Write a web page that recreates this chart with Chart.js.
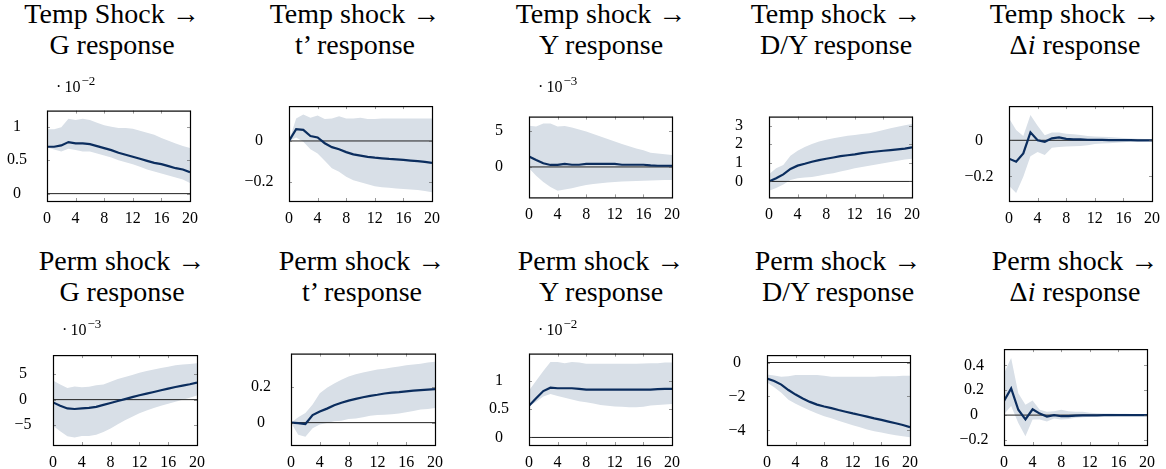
<!DOCTYPE html>
<html><head><meta charset="utf-8">
<script src="https://cdn.jsdelivr.net/npm/chart.js@4/dist/chart.umd.min.js"></script>
<style>
html,body{margin:0;padding:0;background:#fff;width:1166px;height:469px;overflow:hidden;position:relative;}
canvas{position:absolute;}
.title{position:absolute;width:320px;font-family:'Liberation Serif','Times New Roman',serif;font-size:28px;line-height:31px;text-align:center;white-space:nowrap;color:#000;}
.expo{position:absolute;font-family:'Liberation Serif','Times New Roman',serif;font-size:16px;line-height:18px;color:#000;white-space:nowrap;}
.expo sup{font-size:13px;position:relative;top:-1px;margin-left:1px;}
</style></head>
<body>
<script>
// ---------------- DATA ----------------
const horizons = [0,1,2,3,4,5,6,7,8,9,10,11,12,13,14,15,16,17,18,19,20];
const xTicks = [0,4,8,12,16,20];

// Temp shock -> G response (x 10^-2)
const tempG_irf = [0.70,0.70,0.72,0.77,0.75,0.75,0.74,0.71,0.68,0.65,0.61,0.58,0.55,0.52,0.49,0.46,0.44,0.41,0.38,0.36,0.32];
const tempG_hi  = [0.96,0.96,0.99,1.12,1.10,1.12,1.10,1.06,1.02,1.00,0.98,0.98,0.97,0.94,0.91,0.88,0.83,0.79,0.75,0.71,0.68];
const tempG_lo  = [0.69,0.66,0.63,0.67,0.65,0.63,0.63,0.60,0.57,0.54,0.50,0.47,0.44,0.40,0.36,0.33,0.30,0.27,0.24,0.21,0.16];
const tempG_yTicks = [0,0.5,1];

// Temp shock -> t' response
const tempT_irf = [0,0.057,0.054,0.024,0.017,-0.011,-0.030,-0.040,-0.054,-0.065,-0.071,-0.077,-0.081,-0.084,-0.087,-0.089,-0.092,-0.095,-0.098,-0.101,-0.106];
const tempT_hi  = [0,0.109,0.128,0.113,0.123,0.106,0.109,0.120,0.109,0.109,0.112,0.106,0.106,0.109,0.109,0.109,0.109,0.109,0.109,0.109,0.109];
const tempT_lo  = [0,0.017,-0.004,-0.040,-0.061,-0.096,-0.132,-0.149,-0.174,-0.190,-0.200,-0.210,-0.220,-0.224,-0.227,-0.230,-0.233,-0.235,-0.238,-0.243,-0.248];
const tempT_yTicks = [-0.2,0];

// Temp shock -> Y response (x 10^-3)
const tempY_irf = [1.47,0.98,0.52,0.28,0.28,0.42,0.31,0.31,0.42,0.42,0.42,0.42,0.42,0.31,0.31,0.31,0.31,0.21,0.17,0.17,0.17];
const tempY_hi  = [5.77,5.66,6.08,6.08,5.66,5.73,5.52,5.24,4.97,4.62,4.27,3.92,3.57,3.22,2.90,2.59,2.34,1.99,1.89,1.78,1.68];
const tempY_lo  = [-0.17,-1.22,-2.10,-2.80,-3.32,-3.15,-2.97,-2.73,-2.52,-2.38,-2.27,-2.17,-2.10,-2.03,-2.00,-1.96,-1.92,-1.89,-1.85,-1.82,-1.82];
const tempY_yTicks = [0,5];

// Temp shock -> D/Y response
const tempDY_irf = [0,0.17,0.38,0.67,0.85,0.95,1.06,1.15,1.22,1.29,1.36,1.41,1.46,1.52,1.57,1.61,1.65,1.69,1.73,1.77,1.83];
const tempDY_hi  = [0.38,0.71,0.89,1.38,1.65,1.85,2.01,2.15,2.25,2.32,2.39,2.46,2.50,2.55,2.60,2.68,2.77,2.86,2.95,3.02,3.09];
const tempDY_lo  = [-0.50,-0.36,-0.16,0.08,0.17,0.21,0.24,0.31,0.38,0.44,0.54,0.62,0.71,0.78,0.85,0.91,0.98,1.05,1.11,1.18,1.22];
const tempDY_yTicks = [0,1,2,3];

// Temp shock -> Delta i response
const tempDi_irf = [-0.102,-0.119,-0.073,0.044,0,-0.008,0.011,0.016,0.008,0.005,0.005,0.003,0.002,0.002,0.001,0.001,0.001,0.001,0,0,0];
const tempDi_hi  = [0.122,0.057,0.024,0.141,0.081,0.028,0.044,0.044,0.037,0.033,0.029,0.024,0.021,0.020,0.018,0.015,0.013,0.010,0.008,0.007,0.005];
const tempDi_lo  = [-0.252,-0.293,-0.203,-0.089,-0.065,-0.081,-0.041,-0.037,-0.034,-0.033,-0.031,-0.028,-0.021,-0.018,-0.016,-0.013,-0.011,-0.008,-0.007,-0.005,-0.003];
const tempDi_yTicks = [-0.2,0];

// Perm shock -> G response (x 10^-3)
const permG_irf = [-0.54,-1.19,-1.73,-1.84,-1.73,-1.62,-1.41,-1.03,-0.65,-0.27,0.11,0.49,0.86,1.19,1.51,1.84,2.16,2.49,2.76,3.03,3.35];
const permG_hi  = [3.78,2.97,2.27,2.59,2.43,2.54,2.81,2.97,3.51,4.05,4.43,4.86,5.30,5.62,5.95,6.22,6.49,6.76,6.92,7.03,7.14];
const permG_lo  = [-5.14,-6.22,-7.19,-7.46,-7.14,-7.14,-6.92,-6.38,-5.68,-4.86,-4.05,-3.35,-2.70,-2.16,-1.62,-1.19,-0.81,-0.43,0,0.38,0.81];
const permG_yTicks = [-5,0,5];

// Perm shock -> t' response
const permT_irf = [0,-0.003,-0.008,0.043,0.063,0.079,0.098,0.112,0.124,0.134,0.143,0.151,0.157,0.164,0.169,0.172,0.176,0.180,0.183,0.186,0.189];
const permT_hi  = [0,0.031,0.055,0.102,0.165,0.197,0.220,0.241,0.260,0.272,0.283,0.291,0.299,0.304,0.310,0.317,0.323,0.328,0.332,0.339,0.343];
const permT_lo  = [0,-0.068,-0.079,-0.031,-0.011,-0.002,0.008,0.011,0.020,0.024,0.031,0.039,0.043,0.044,0.047,0.052,0.058,0.066,0.074,0.077,0.082];
const permT_yTicks = [0,0.2];

// Perm shock -> Y response (x 10^-2)
const permY_irf = [0.557,0.690,0.818,0.877,0.867,0.867,0.867,0.857,0.842,0.842,0.842,0.842,0.842,0.842,0.842,0.842,0.842,0.842,0.852,0.857,0.857];
const permY_hi  = [0.828,1.00,1.17,1.33,1.33,1.31,1.33,1.32,1.30,1.30,1.30,1.30,1.30,1.30,1.30,1.30,1.305,1.31,1.31,1.32,1.32];
const permY_lo  = [0.542,0.630,0.720,0.768,0.729,0.700,0.670,0.640,0.620,0.600,0.570,0.557,0.547,0.542,0.532,0.532,0.542,0.562,0.571,0.581,0.591];
const permY_yTicks = [0,0.5,1];

// Perm shock -> D/Y response
const permDY_irf = [-0.94,-1.09,-1.30,-1.62,-1.89,-2.12,-2.32,-2.48,-2.59,-2.69,-2.80,-2.90,-3.00,-3.09,-3.19,-3.29,-3.38,-3.48,-3.58,-3.68,-3.81];
const permDY_hi  = [-0.70,-0.76,-0.84,-0.81,-0.73,-0.73,-0.73,-0.73,-0.78,-0.84,-0.84,-0.84,-0.84,-0.84,-0.84,-0.84,-0.81,-0.81,-0.81,-0.78,-0.78];
const permDY_lo  = [-1.18,-1.46,-1.78,-2.19,-2.43,-2.64,-2.83,-3.00,-3.16,-3.29,-3.43,-3.56,-3.69,-3.81,-3.94,-4.05,-4.13,-4.21,-4.29,-4.34,-4.40];
const permDY_yTicks = [-4,-2,0];

// Perm shock -> Delta i response
const permDi_irf = [0.113,0.215,0.043,-0.035,0.047,0.012,-0.012,0,-0.009,-0.009,-0.005,-0.002,-0.002,-0.002,-0.001,-0.001,-0.001,0,0,0,0];
const permDi_hi  = [0.338,0.461,0.177,0.083,0.118,0.043,0.026,0.031,0.043,0.031,0.026,0.026,0.019,0.014,0.012,0.012,0.011,0.010,0.009,0.008,0.007];
const permDi_lo  = [0.007,0.073,-0.064,-0.170,-0.035,-0.035,-0.052,-0.028,-0.035,-0.031,-0.021,-0.017,-0.014,-0.012,-0.010,-0.009,-0.008,-0.007,-0.006,-0.005,-0.005];
const permDi_yTicks = [-0.2,0,0.2,0.4];

// ---------------- LAYOUT ----------------
const panels = [
  {irf:tempG_irf, hi:tempG_hi, lo:tempG_lo, yt:tempG_yTicks, min:-0.11, max:1.24, L:47, T:93, W:145, H:108, title:['Temp Shock &rarr;','G response'], tc:112, expo:'&middot;&thinsp;10<sup>&minus;2</sup>'},
  {irf:tempT_irf, hi:tempT_hi, lo:tempT_lo, yt:tempT_yTicks, min:-0.291, max:0.169, L:289, T:93, W:145, H:108, title:['Temp shock &rarr;','t&rsquo; response'], tc:355},
  {irf:tempY_irf, hi:tempY_hi, lo:tempY_lo, yt:tempY_yTicks, min:-4.27, max:7.06, L:529, T:93, W:145, H:108, title:['Temp shock &rarr;','Y response'], tc:601, expo:'&middot;&thinsp;10<sup>&minus;3</sup>'},
  {irf:tempDY_irf, hi:tempDY_hi, lo:tempDY_lo, yt:tempDY_yTicks, min:-0.86, max:3.49, L:769, T:93, W:145, H:108, title:['Temp shock &rarr;','D/Y response'], tc:836},
  {irf:tempDi_irf, hi:tempDi_hi, lo:tempDi_lo, yt:tempDi_yTicks, min:-0.337, max:0.19, L:1009, T:93, W:145, H:108, title:['Temp shock &rarr;','&Delta;<i>i</i> response'], tc:1075},
  {irf:permG_irf, hi:permG_hi, lo:permG_lo, yt:permG_yTicks, min:-8.92, max:8.76, L:53, T:336, W:146, H:109, title:['Perm shock &rarr;','G response'], tc:122, expo:'&middot;&thinsp;10<sup>&minus;3</sup>'},
  {irf:permT_irf, hi:permT_hi, lo:permT_lo, yt:permT_yTicks, min:-0.126, max:0.389, L:291, T:336, W:146, H:109, title:['Perm shock &rarr;','t&rsquo; response'], tc:362},
  {irf:permY_irf, hi:permY_hi, lo:permY_lo, yt:permY_yTicks, min:-0.133, max:1.478, L:529, T:336, W:145, H:109, title:['Perm shock &rarr;','Y response'], tc:601, expo:'&middot;&thinsp;10<sup>&minus;2</sup>'},
  {irf:permDY_irf, hi:permDY_hi, lo:permDY_lo, yt:permDY_yTicks, min:-4.86, max:0.437, L:767, T:336, W:145, H:109, title:['Perm shock &rarr;','D/Y response'], tc:838},
  {irf:permDi_irf, hi:permDi_hi, lo:permDi_lo, yt:permDi_yTicks, min:-0.241, max:0.532, L:1004, T:336, W:145, H:109, title:['Perm shock &rarr;','&Delta;<i>i</i> response'], tc:1075}
];

const FAMILY = "'Liberation Serif', 'Times New Roman', serif";
const FONT = {family:FAMILY, size:16};
const YAXW = 47, PADT = 12, PADR = 14, XAXH = 32;
const LINE_COLOR = '#0b2d5e', BAND_COLOR = 'rgb(216,223,231)';

const mctx = document.createElement('canvas').getContext('2d');
mctx.font = '16px ' + FAMILY;
function fmt(v){ const r = Math.round(v*1000)/1000; return (r<0?'\u2212':'') + String(Math.abs(r)); }

const boxPlugin = {
  id:'box',
  afterDatasetsDraw(chart){
    const {ctx, chartArea:a, scales} = chart;
    ctx.save();
    ctx.strokeStyle = '#555'; ctx.lineWidth = 0.6;
    ctx.beginPath();
    scales.x.ticks.forEach(t=>{ const px = Math.round(scales.x.getPixelForValue(t.value))+0.5;
      ctx.moveTo(px,a.bottom); ctx.lineTo(px,a.bottom-3); ctx.moveTo(px,a.top); ctx.lineTo(px,a.top+3); });
    scales.y.ticks.forEach(t=>{ const py = Math.round(scales.y.getPixelForValue(t.value))+0.5;
      ctx.moveTo(a.left,py); ctx.lineTo(a.left+3,py); ctx.moveTo(a.right,py); ctx.lineTo(a.right-3,py); });
    ctx.stroke();
    ctx.strokeStyle = '#000'; ctx.lineWidth = 1.2;
    ctx.strokeRect(a.left+0.5, a.top+0.5, a.right-a.left, a.bottom-a.top);
    ctx.restore();
  }
};

panels.forEach((p,i)=>{
  const cv = document.createElement('canvas');
  const cw = p.W + YAXW + PADR, ch = p.H + PADT + XAXH;
  cv.width = cw; cv.height = ch;
  cv.style.left = (p.L - YAXW) + 'px'; cv.style.top = (p.T - PADT) + 'px';
  cv.style.width = cw+'px'; cv.style.height = ch+'px';
  document.body.appendChild(cv);

  const widest = Math.max(...p.yt.map(v=>mctx.measureText(fmt(v)).width));
  const ypad = Math.max(0, 30 - widest/2);
  const pts = arr => horizons.map((h,k)=>({x:h, y:arr[k]}));

  new Chart(cv.getContext('2d'), {
    type:'line',
    data:{ datasets:[
      {data:pts(p.irf), borderColor:LINE_COLOR, borderWidth:2.2, pointRadius:0, tension:0, fill:false},
      {data:[{x:0,y:0},{x:20,y:0}], borderColor:'#222', borderWidth:1, pointRadius:0, fill:false},
      {data:pts(p.hi), borderWidth:0, borderColor:'rgba(0,0,0,0)', pointRadius:0, tension:0, fill:'+1', backgroundColor:BAND_COLOR},
      {data:pts(p.lo), borderWidth:0, borderColor:'rgba(0,0,0,0)', pointRadius:0, tension:0, fill:false}
    ]},
    options:{
      responsive:false, animation:false, devicePixelRatio:1,
      layout:{padding:{left:0, top:PADT, right:PADR, bottom:0}},
      plugins:{legend:{display:false}, tooltip:{enabled:false}, title:{display:false}},
      scales:{
        x:{type:'linear', min:0, max:20,
           grid:{display:false, drawTicks:false}, border:{display:false},
           afterBuildTicks(s){ s.ticks = xTicks.map(v=>({value:v})); },
           ticks:{padding:8, color:'#000', font:FONT, maxRotation:0, autoSkip:false, callback:v=>fmt(v)},
           afterFit(s){ s.height = XAXH; }},
        y:{type:'linear', min:p.min, max:p.max,
           grid:{display:false, drawTicks:false}, border:{display:false},
           afterBuildTicks(s){ s.ticks = p.yt.map(v=>({value:v})); },
           ticks:{crossAlign:'center', padding:ypad, color:'#000', font:FONT, autoSkip:false, callback:v=>fmt(v)},
           afterFit(s){ s.width = YAXW; }}
      }
    },
    plugins:[boxPlugin]
  });

  const t = document.createElement('div');
  t.className = 'title';
  t.innerHTML = p.title[0] + '<br>' + p.title[1];
  t.style.left = (p.tc - 160) + 'px';
  t.style.top = (i < 5 ? -2 : 245) + 'px';
  document.body.appendChild(t);

  if (p.expo){
    const e = document.createElement('div');
    e.className = 'expo';
    e.innerHTML = p.expo;
    e.style.left = (p.L + 9) + 'px';
    e.style.top = (p.T - 20) + 'px';
    document.body.appendChild(e);
  }
});
</script>
</body></html>
